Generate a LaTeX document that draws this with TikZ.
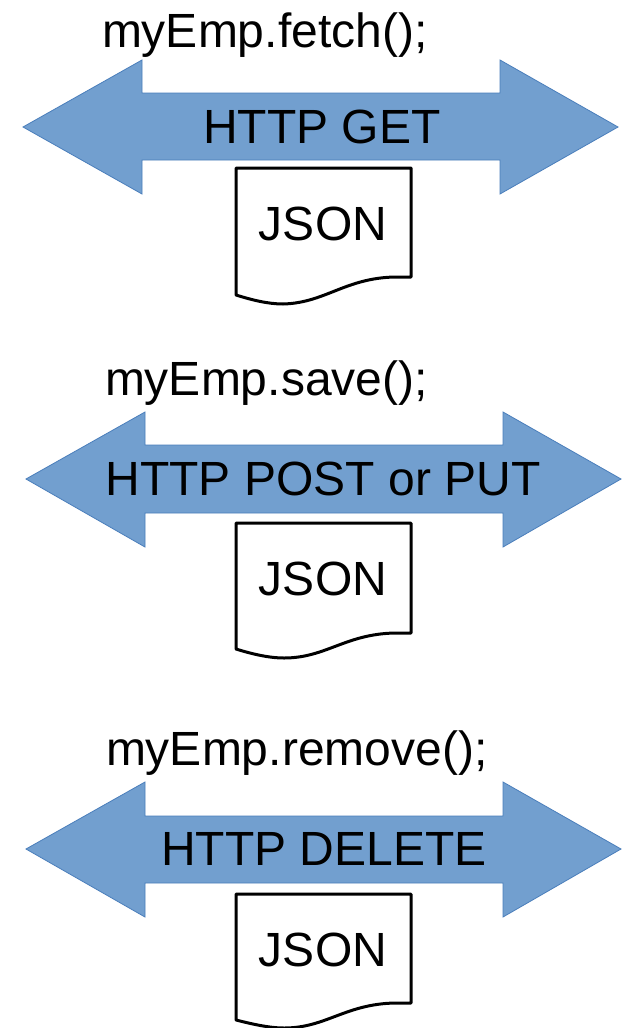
\documentclass[tikz,border=0pt]{standalone}
\usepackage{fontspec}
\setmainfont{Liberation Sans}
\definecolor{arrowfill}{HTML}{729FCF}
\definecolor{arrowline}{HTML}{4A7EBB}
\begin{document}
\begin{tikzpicture}[x=1pt,y=-1pt,
  bigtext/.style={font=\fontsize{48}{56}\selectfont, inner sep=0pt, outer sep=0pt},
  dblarrow/.style={fill=arrowfill, draw=arrowline, line width=0.8pt, line join=miter},
  docshape/.style={draw=black, fill=white, line width=3pt, line join=round}]
\useasboundingbox (0,0) rectangle (624,1028);
\fill[white] (0,0) rectangle (624,1028);

% ---------- block 1 ----------
\node[bigtext, anchor=base west] (call1) at (102,47) {myEmp.fetch();};
\draw[dblarrow] (23,127) -- (142,60) -- (142,93) -- (500,93) -- (500,60) -- (618,127)
  -- (500,194) -- (500,160) -- (142,160) -- (142,194) -- cycle;
\node[bigtext, anchor=base] (http1) at (322,143) {HTTP GET};
\draw[docshape] (236,168) -- (411,168) -- (411,277) -- (395,277)
  .. controls (345,278) and (325,303) .. (283,304)
  .. controls (268,304) and (252,300) .. (236,295) -- cycle;
\node[bigtext, anchor=base] (json1) at (323,240) {JSON};

% ---------- block 2 ----------
\node[bigtext, anchor=base west] (call2) at (105,395) {myEmp.save();};
\draw[dblarrow] (26,479) -- (145,412) -- (145,445) -- (503,445) -- (503,412) -- (621,479)
  -- (503,547) -- (503,513) -- (145,513) -- (145,547) -- cycle;
\node[bigtext, anchor=base] (http2) at (323,495) {HTTP POST or PUT};
\draw[docshape] (236,523) -- (411,523) -- (411,633) -- (395,633)
  .. controls (345,634) and (326,658) .. (284,658)
  .. controls (269,658) and (252,654) .. (236,649) -- cycle;
\node[bigtext, anchor=base] (json2) at (323,595) {JSON};

% ---------- block 3 ----------
\node[bigtext, anchor=base west] (call3) at (106,765) {myEmp.remove();};
\draw[dblarrow] (26,849) -- (145,782) -- (145,816) -- (503,816) -- (503,782) -- (621,849)
  -- (503,917) -- (503,883) -- (145,883) -- (145,917) -- cycle;
\node[bigtext, anchor=base] (http3) at (324,865) {HTTP DELETE};
\draw[docshape] (236,894) -- (411,894) -- (411,1003) -- (395,1003)
  .. controls (345,1004) and (326,1028) .. (284,1028)
  .. controls (269,1028) and (252,1024) .. (236,1020) -- cycle;
\node[bigtext, anchor=base] (json3) at (323,966) {JSON};
\end{tikzpicture}
\end{document}
